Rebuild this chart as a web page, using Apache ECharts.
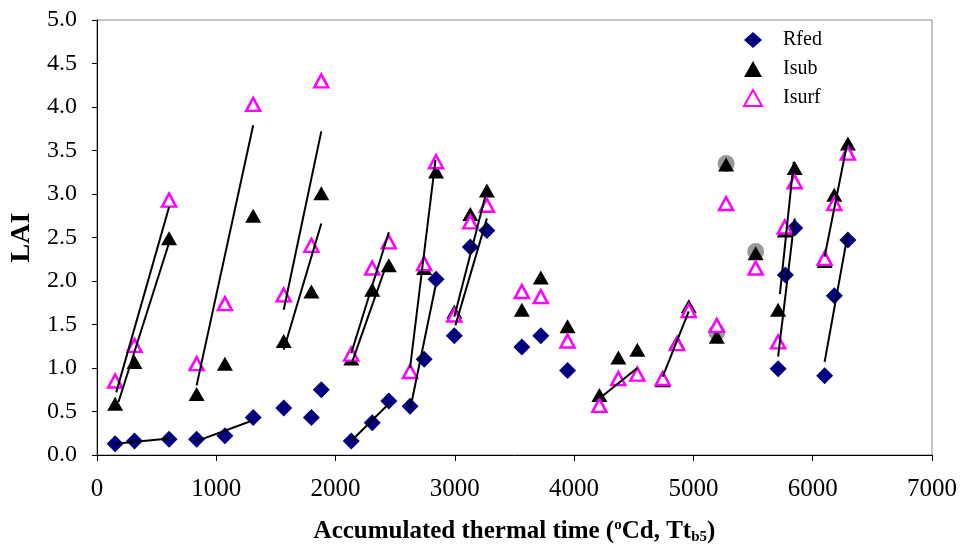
<!DOCTYPE html>
<html>
<head>
<meta charset="utf-8">
<script src="https://cdn.jsdelivr.net/npm/echarts@6/dist/echarts.min.js"></script>
<style>
  html, body { margin: 0; padding: 0; background: #fff; }
  #chart { width: 963px; height: 556px; }
</style>
</head>
<body>
<div id="chart"></div>
<script>
// LAI values: [thermal time, LAI]
var rfed = [
  [153, 0.13], [315, 0.16], [605, 0.18], [836, 0.18], [1073, 0.22], [1310, 0.43], [1566, 0.54], [1798, 0.43], [1881, 0.75],
  [2132, 0.16], [2308, 0.37], [2447, 0.62], [2625, 0.56], [2743, 1.10], [2843, 2.02], [2996, 1.37], [3130, 2.39], [3269, 2.58],
  [3562, 1.24], [3721, 1.37], [3945, 0.97],
  [5710, 0.99], [5771, 2.07], [5849, 2.61], [6100, 0.91], [6181, 1.83], [6295, 2.47]
]
var isub = [
  [153, 0.59], [315, 1.07], [605, 2.49], [836, 0.70], [1073, 1.05], [1310, 2.75], [1566, 1.31], [1798, 1.88], [1881, 3.01],
  [2132, 1.11], [2308, 1.90], [2447, 2.18], [2743, 2.15], [2843, 3.26], [2996, 1.65], [3130, 2.77], [3269, 3.04],
  [3562, 1.67], [3721, 2.04], [3945, 1.48],
  [4212, 0.69], [4371, 1.12], [4530, 1.21], [4743, 0.86], [4863, 1.30], [4961, 1.71], [5196, 1.36], [5274, 3.34], [5522, 2.32],
  [5710, 1.67], [5766, 2.58], [5849, 3.30], [6100, 2.23], [6181, 2.99], [6295, 3.58]
]
var isurf = [
  [153, 0.85], [315, 1.26], [605, 2.93], [836, 1.05], [1073, 1.74], [1310, 4.03], [1566, 1.84], [1798, 2.41], [1881, 4.30],
  [2132, 1.16], [2308, 2.15], [2447, 2.45], [2625, 0.96], [2743, 2.20], [2843, 3.37], [2996, 1.61], [3130, 2.68], [3269, 2.87],
  [3562, 1.88], [3721, 1.82], [3945, 1.31],
  [4212, 0.57], [4371, 0.88], [4530, 0.93], [4743, 0.88], [4863, 1.28], [4961, 1.66], [5196, 1.49], [5274, 2.89], [5522, 2.15],
  [5710, 1.30], [5766, 2.62], [5849, 3.14], [6100, 2.26], [6181, 2.89], [6295, 3.47]
]
var irain = [[5196, 1.41], [5274, 3.35], [5522, 2.34]]

// fitted lines, each a pair of end points
var fits = [
  [[162, 0.72], [605, 2.85]],
  [[181, 0.61], [605, 2.44]],
  [[836, 0.80], [1310, 3.79]],
  [[1566, 1.67], [1881, 3.72]],
  [[1566, 1.21], [1881, 2.66]],
  [[153, 0.13], [605, 0.19]],
  [[836, 0.16], [1310, 0.40]],
  [[2132, 1.17], [2447, 2.56]],
  [[2140, 1.07], [2430, 2.20]],
  [[2625, 1.00], [2838, 3.39]],
  [[2625, 0.52], [2838, 1.94]],
  [[2996, 1.59], [3255, 2.97]],
  [[3005, 1.49], [3269, 2.72]],
  [[2132, 0.16], [2447, 0.59]],
  [[4212, 0.65], [4530, 1.00]],
  [[4743, 0.90], [4961, 1.65]],
  [[5710, 1.13], [5849, 2.72]],
  [[5725, 1.85], [5841, 3.37]],
  [[6100, 1.07], [6295, 2.55]],
  [[6100, 2.28], [6295, 3.62]]
]

var serif = '"Liberation Serif", "DejaVu Serif", serif'

var chart = echarts.init(document.getElementById('chart'))

var series = [
  {
    name: 'Irain',
    type: 'scatter',
    data: irain,
    symbol: 'circle',
    symbolSize: 17,
    itemStyle: { color: '#999999', opacity: 1 },
    z: 2
  },
  {
    name: 'Rfed',
    type: 'scatter',
    data: rfed,
    symbol: 'diamond',
    symbolSize: [17, 17],
    itemStyle: { color: '#000080', opacity: 1 },
    z: 3
  },
  {
    name: 'Isub',
    type: 'scatter',
    data: isub,
    symbol: 'triangle',
    symbolSize: [16, 14],
    itemStyle: { color: '#000000', opacity: 1 },
    z: 4
  },
  {
    name: 'Isurf',
    type: 'scatter',
    data: isurf,
    symbol: 'triangle',
    symbolSize: [14, 13],
    itemStyle: { color: '#ffffff', borderColor: '#ff00ff', borderWidth: 2.5, opacity: 1 },
    z: 5
  }
]

fits.forEach(function (seg) {
  series.push({
    type: 'line',
    data: seg,
    symbol: 'none',
    silent: true,
    lineStyle: { color: '#000', width: 2 },
    z: 6
  })
})

var option = {
  animation: false,
  backgroundColor: '#fff',
  grid: {
    left: 96,
    right: 31,
    top: 20,
    bottom: 101,
    show: true,
    borderColor: '#888',
    borderWidth: 1
  },
  legend: {
    data: ['Rfed', 'Isub', 'Isurf'],
    orient: 'vertical',
    left: 743,
    top: 30,
    padding: 0,
    itemWidth: 18,
    itemHeight: 16,
    itemGap: 9,
    textStyle: { fontFamily: serif, fontSize: 20, color: '#000', padding: [0, 0, 0, 16] }
  },
  xAxis: {
    type: 'value',
    min: 0,
    max: 7000,
    interval: 1000,
    name: 'Accumulated thermal time ({sup|o}Cd, Tt{sub|b5})',
    nameLocation: 'middle',
    nameGap: 63,
    nameTextStyle: {
      fontFamily: serif,
      fontSize: 25,
      fontWeight: 'bold',
      color: '#000',
      rich: {
        sup: { fontFamily: serif, fontSize: 15, fontWeight: 'bold', verticalAlign: 'top', padding: [0, 0, 12, 0] },
        sub: { fontFamily: serif, fontSize: 15, fontWeight: 'bold', verticalAlign: 'bottom', padding: [9, 0, 0, 0] }
      }
    },
    axisLine: { lineStyle: { color: '#000', width: 1 } },
    axisTick: { show: true, inside: false, length: 6, lineStyle: { color: '#000' } },
    axisLabel: {
      fontFamily: serif, fontSize: 25, color: '#000', margin: 22,
      formatter: function (v) { return String(v) }
    },
    splitLine: { show: false }
  },
  yAxis: {
    type: 'value',
    min: 0,
    max: 5,
    interval: 0.5,
    name: 'LAI',
    nameLocation: 'middle',
    nameRotate: 90,
    nameGap: 60,
    nameTextStyle: { fontFamily: serif, fontSize: 28, fontWeight: 'bold', color: '#000' },
    axisLine: { show: true, lineStyle: { color: '#000', width: 1 } },
    axisTick: { show: true, inside: false, length: 5, lineStyle: { color: '#000' } },
    axisLabel: {
      fontFamily: serif, fontSize: 24, color: '#000', margin: 20,
      formatter: function (v) { return v.toFixed(1) }
    },
    splitLine: { show: false }
  },
  series: series
}

chart.setOption(option)
</script>
</body>
</html>
